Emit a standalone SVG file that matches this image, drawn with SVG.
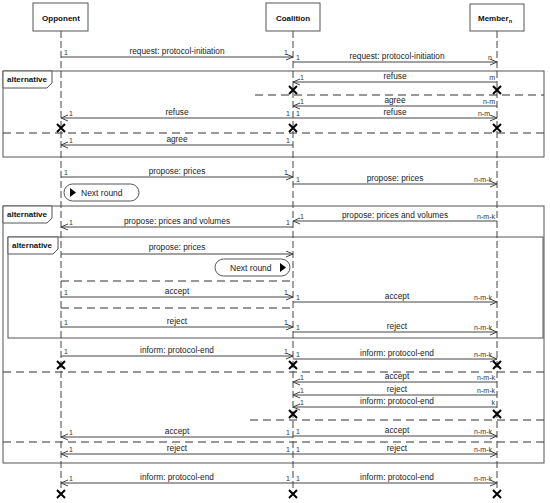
<svg xmlns="http://www.w3.org/2000/svg" width="550" height="503" viewBox="0 0 550 503">
<defs>
<style>
.hdr{fill:#fff;stroke:#555;stroke-width:1}
.ht{font-family:"Liberation Sans",Arial,sans-serif;font-size:8px;font-weight:bold;fill:#111;text-anchor:middle}
.ll{stroke:#444;stroke-width:1;stroke-dasharray:7,3;fill:none}
.msg{stroke:#444;stroke-width:1;fill:none;marker-end:url(#arr)}
.lbl{font-family:"Liberation Sans",Arial,sans-serif;font-size:8.3px;fill:#222;text-anchor:middle}
.m{font-family:"Liberation Sans",Arial,sans-serif;font-size:7px;fill:#333}
.me{font-family:"Liberation Sans",Arial,sans-serif;font-size:7px;fill:#333;text-anchor:end}
.frame{fill:none;stroke:#555;stroke-width:1}
.tab{fill:#fff;stroke:#555;stroke-width:1}
.tt{font-family:"Liberation Sans",Arial,sans-serif;font-size:8px;font-weight:bold;fill:#111}
.sep{stroke:#333;stroke-width:1;stroke-dasharray:8,5;fill:none}
.x{stroke:#000;stroke-width:2;fill:none}
.nr{fill:#fff;stroke:#555;stroke-width:1}
.nrt{font-family:"Liberation Sans",Arial,sans-serif;font-size:8.5px;fill:#222}
</style>
<marker id="arr" markerUnits="userSpaceOnUse" markerWidth="8" markerHeight="8" refX="7" refY="3.5" orient="auto">
<path d="M0,0.5 L7,3.5 L0,6.5" fill="none" stroke="#444" stroke-width="1"/>
</marker>
<g id="xm"><path class="x" d="M-4,-4 L4,4 M-4,4 L4,-4"/></g>
</defs>
<rect width="550" height="503" fill="#fff"/>

<g id="frames">
<rect class="frame" x="3" y="71" width="541" height="86"/>
<path class="tab" d="M3,71 H52 V83 L47,88 H3 Z"/>
<text class="tt" x="7" y="82">alternative</text>
<rect class="frame" x="3" y="206" width="541" height="257"/>
<path class="tab" d="M3,206 H52 V218 L47,223 H3 Z"/>
<text class="tt" x="7" y="217">alternative</text>
<rect class="frame" x="8" y="237" width="535" height="101"/>
<path class="tab" d="M8,237 H58 V249 L53,254 H8 Z"/>
<text class="tt" x="12" y="248">alternative</text>
<path class="sep" d="M255,95 H544 M3,133 H544 M61,281 H293 M61,308 H293 M3,372 H544 M250,420 H544 M3,442 H544"/>
</g>

<g id="opponent">
<path class="ll" d="M61,31 V490"/>
<rect class="hdr" x="33" y="3" width="55" height="28"/>
<text class="ht" x="61" y="21">Opponent</text>
</g>
<g id="coalition">
<path class="ll" d="M293,31 V490"/>
<rect class="hdr" x="266" y="3" width="54" height="28"/>
<text class="ht" x="293" y="21">Coalition</text>
</g>
<g id="member">
<path class="ll" d="M497,31 V490"/>
<rect class="hdr" x="470" y="4" width="54" height="27"/>
<text class="ht" x="495" y="21">Member<tspan font-size="5.5px" dy="2">n</tspan></text>
</g>

<g id="nextround1">
<rect class="nr" x="64" y="184" width="75" height="17" rx="8.5"/>
<path d="M70,188 L76,192.5 L70,197 Z" fill="#000"/>
<text class="nrt" x="81" y="195.5">Next round</text>
</g>
<g id="nextround2">
<rect class="nr" x="215" y="259" width="75" height="17" rx="8.5"/>
<path d="M280,263 L286,267.5 L280,272 Z" fill="#000"/>
<text class="nrt" x="230" y="270.5">Next round</text>
</g>

<g id="connectors">
<path class="msg" d="M61,57 H293"/>
<text class="lbl" x="177" y="54">request: protocol-initiation</text>
<text class="m" x="64" y="55">1</text><text class="me" x="288" y="55">1</text>

<path class="msg" d="M293,62 H497"/>
<text class="lbl" x="397" y="59">request: protocol-initiation</text>
<text class="m" x="296" y="60">1</text><text class="me" x="492" y="60">n</text>

<path class="msg" d="M497,82 H293"/>
<text class="lbl" x="395" y="79">refuse</text>
<text class="m" x="300" y="80">1</text><text class="me" x="495" y="80">m</text>

<path class="msg" d="M497,106 H293"/>
<text class="lbl" x="395" y="103">agree</text>
<text class="m" x="300" y="104">1</text><text class="me" x="495" y="104">n-m</text>

<path class="msg" d="M293,118 H497"/>
<text class="lbl" x="395" y="115">refuse</text>
<text class="m" x="296" y="116">1</text><text class="me" x="490" y="116">n-m</text>

<path class="msg" d="M293,118 H61"/>
<text class="lbl" x="177" y="115">refuse</text>
<text class="m" x="69" y="116">1</text><text class="me" x="290" y="116">1</text>

<path class="msg" d="M293,145 H61"/>
<text class="lbl" x="177" y="142">agree</text>
<text class="m" x="69" y="143">1</text><text class="me" x="290" y="143">1</text>

<path class="msg" d="M61,177 H293"/>
<text class="lbl" x="177" y="174">propose: prices</text>
<text class="m" x="64" y="175">1</text><text class="me" x="288" y="175">1</text>

<path class="msg" d="M293,184 H497"/>
<text class="lbl" x="395" y="181">propose: prices</text>
<text class="m" x="296" y="182">1</text><text class="me" x="492" y="182">n-m-k</text>

<path class="msg" d="M497,221 H293"/>
<text class="lbl" x="395" y="218">propose: prices and volumes</text>
<text class="m" x="300" y="219">1</text><text class="me" x="495" y="219">n-m-k</text>

<path class="msg" d="M293,227 H61"/>
<text class="lbl" x="177" y="224">propose: prices and volumes</text>
<text class="m" x="69" y="225">1</text><text class="me" x="290" y="225">1</text>

<path class="msg" d="M61,254 H293"/>
<text class="lbl" x="177" y="250">propose: prices</text>

<path class="msg" d="M61,297 H293"/>
<text class="lbl" x="177" y="294">accept</text>
<text class="m" x="64" y="295">1</text><text class="me" x="288" y="295">1</text>

<path class="msg" d="M293,302 H497"/>
<text class="lbl" x="397" y="299">accept</text>
<text class="m" x="296" y="300">1</text><text class="me" x="492" y="300">n-m-k</text>

<path class="msg" d="M61,327 H293"/>
<text class="lbl" x="177" y="324">reject</text>
<text class="m" x="64" y="325">1</text><text class="me" x="288" y="325">1</text>

<path class="msg" d="M293,332 H497"/>
<text class="lbl" x="397" y="329">reject</text>
<text class="m" x="296" y="330">1</text><text class="me" x="492" y="330">n-m-k</text>

<path class="msg" d="M61,356 H293"/>
<text class="lbl" x="177" y="353">inform: protocol-end</text>
<text class="m" x="64" y="354">1</text><text class="me" x="288" y="354">1</text>

<path class="msg" d="M293,359 H497"/>
<text class="lbl" x="397" y="356">inform: protocol-end</text>
<text class="m" x="296" y="357">1</text><text class="me" x="492" y="357">n-m-k</text>

<path class="msg" d="M497,382 H293"/>
<text class="lbl" x="397" y="379">accept</text>
<text class="m" x="300" y="380">1</text><text class="me" x="495" y="380">n-m-k</text>

<path class="msg" d="M497,395 H293"/>
<text class="lbl" x="397" y="392">reject</text>
<text class="m" x="300" y="393">1</text><text class="me" x="495" y="393">n-m-k</text>

<path class="msg" d="M497,407 H293"/>
<text class="lbl" x="397" y="404">inform: protocol-end</text>
<text class="m" x="300" y="405">1</text><text class="me" x="495" y="405">k</text>

<path class="msg" d="M293,437 H61"/>
<text class="lbl" x="177" y="434">accept</text>
<text class="m" x="69" y="435">1</text><text class="me" x="290" y="435">1</text>

<path class="msg" d="M293,436 H497"/>
<text class="lbl" x="397" y="433">accept</text>
<text class="m" x="296" y="434">1</text><text class="me" x="492" y="434">n-m-k</text>

<path class="msg" d="M293,454 H61"/>
<text class="lbl" x="177" y="451">reject</text>
<text class="m" x="69" y="452">1</text><text class="me" x="290" y="452">1</text>

<path class="msg" d="M293,454 H497"/>
<text class="lbl" x="397" y="451">reject</text>
<text class="m" x="296" y="452">1</text><text class="me" x="492" y="452">n-m-k</text>

<path class="msg" d="M293,483 H61"/>
<text class="lbl" x="177" y="480">inform: protocol-end</text>
<text class="m" x="69" y="481">1</text><text class="me" x="290" y="481">1</text>

<path class="msg" d="M293,483 H497"/>
<text class="lbl" x="397" y="480">inform: protocol-end</text>
<text class="m" x="296" y="481">1</text><text class="me" x="492" y="481">n-m-k</text>
</g>

<g id="destructions">
<use href="#xm" x="293" y="90"/><use href="#xm" x="497" y="90"/>
<use href="#xm" x="61" y="128"/><use href="#xm" x="293" y="128"/><use href="#xm" x="497" y="128"/>
<use href="#xm" x="61" y="365"/><use href="#xm" x="293" y="365"/><use href="#xm" x="497" y="365"/>
<use href="#xm" x="293" y="414"/><use href="#xm" x="497" y="414"/>
<use href="#xm" x="61" y="494"/><use href="#xm" x="293" y="494"/><use href="#xm" x="497" y="494"/>
</g>
</svg>
